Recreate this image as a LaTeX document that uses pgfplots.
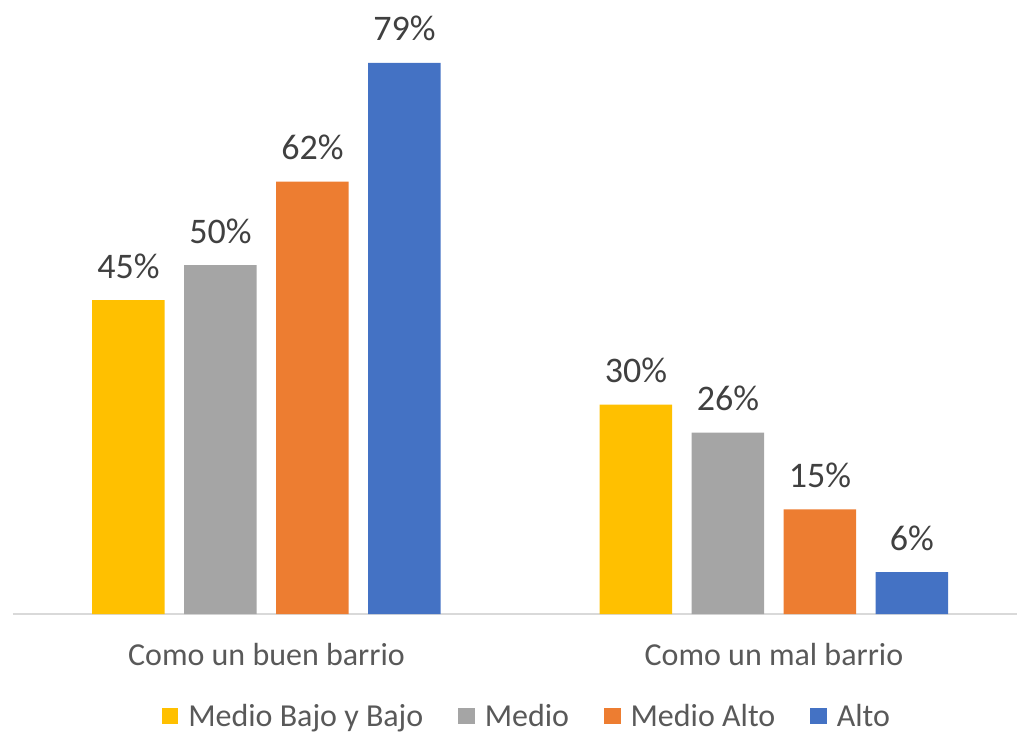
\documentclass[border=0pt]{standalone}
\usepackage{pgfplots}
\pgfplotsset{compat=1.18}
\usepackage{fontspec}
\setmainfont{Carlito}
\definecolor{cyel}{HTML}{FFC000}
\definecolor{cgray}{HTML}{A5A5A5}
\definecolor{corg}{HTML}{ED7D31}
\definecolor{cblue}{HTML}{4472C4}
\definecolor{ctxt}{HTML}{595959}
\definecolor{clab}{HTML}{404040}
\definecolor{cline}{HTML}{D9D9D9}
\begin{document}
\begin{tikzpicture}
\pgfplotsset{sq legend/.style={legend image code/.code={\fill[##1] (0pt,-8pt) rectangle (16.5pt,8.5pt);}}}
\begin{axis}[
 at={(0pt,0pt)}, anchor=south west,
 scale only axis, width=1004.25pt, height=595pt,
 xmin=-0.5, xmax=1.479, ymin=0, ymax=85.3,
 axis x line=bottom, axis y line=none,
 axis line style={draw=cline, line width=2pt, -},
 xtick={0,1}, xticklabels={Como un buen barrio, Como un mal barrio},
 major tick length=0pt,
 ytick=\empty,
 /pgf/number format/assume math mode=true,
 xticklabel style={anchor=base, yshift=-51pt, font=\fontsize{32}{38}\selectfont, text=ctxt},
 ybar, bar width=72.5pt,
 nodes near coords={\pgfmathprintnumber{\pgfplotspointmeta}\%},
 nodes near coords style={anchor=base, yshift=22pt, font=\fontsize{36}{43}\selectfont, text=clab},
 legend columns=4,
 legend style={draw=none, fill=none, at={(0.5,0)}, anchor=center, xshift=11pt, yshift=-102pt,
   font=\fontsize{32}{38}\selectfont, text=ctxt, nodes={inner sep=0pt},
   /tikz/every odd column/.append style={column sep=10pt},
   /tikz/every even column/.append style={column sep=35pt}},
]
\addplot[fill=cyel, draw=none, bar shift=-138pt, sq legend] coordinates {(0,45) (1,30)};
\addplot[fill=cgray, draw=none, bar shift=-46pt, sq legend] coordinates {(0,50) (1,26)};
\addplot[fill=corg, draw=none, bar shift=46pt, sq legend] coordinates {(0,62) (1,15)};
\addplot[fill=cblue, draw=none, bar shift=138pt, sq legend] coordinates {(0,79) (1,6)};
\legend{Medio Bajo y Bajo, Medio, Medio Alto, Alto}
\end{axis}
\pgfresetboundingbox
\useasboundingbox (-12.75pt,-119pt) rectangle (1004.25pt,614pt);
\end{tikzpicture}
\end{document}
